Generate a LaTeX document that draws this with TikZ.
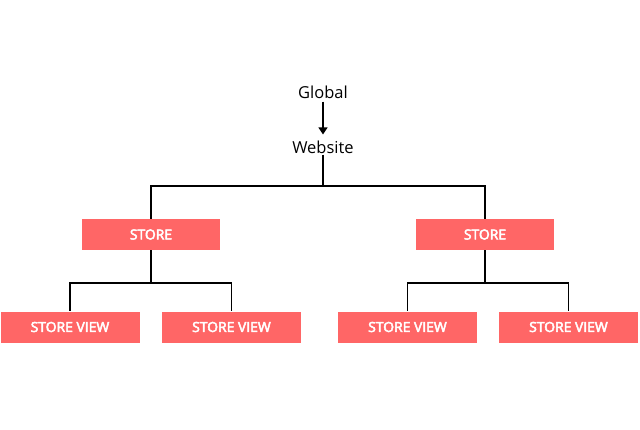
\documentclass[tikz,border=0pt]{standalone}
\usepackage{fontspec}
\setmainfont{Open Sans}
\newfontfamily\semibfont{Open Sans}[BoldFont={Open Sans}, BoldFeatures={FakeBold=3.5}]
\usetikzlibrary{arrows.meta}
\definecolor{boxred}{RGB}{255,102,102}
\begin{document}
\begin{tikzpicture}[x=1pt,y=-1pt,
  box/.style={fill=boxred, text=white, minimum height=31pt, inner sep=0pt, font=\semibfont\bfseries\fontsize{13.9}{16}\selectfont},
  storebox/.style={box, minimum width=138pt},
  viewbox/.style={box, minimum width=139pt},
  lbl/.style={font=\fontsize{16.5}{19}\selectfont, text=black, inner sep=1pt},
  conn/.style={line width=1.3pt, black}]
\useasboundingbox (0,0) rectangle (640,429);
\node[lbl] (global) at (323,92) {Global};
\node[lbl] (web) at (323,147) {Website};
\node[storebox] (s1) at (151,234.5) {STORE};
\node[storebox] (s2) at (485,234.5) {STORE};
\node[viewbox] (v1) at (70,327) {STORE VIEW};
\node[viewbox] (v2) at (231.5,327) {STORE VIEW};
\node[viewbox] (v3) at (407.5,327) {STORE VIEW};
\node[viewbox] (v4) at (568.5,327) {STORE VIEW};
\coordinate (j0) at (323,186);
\coordinate (j1) at (151,283);
\coordinate (j2) at (485,283);
\draw[conn, -{Triangle[length=7pt,width=9pt]}] ([yshift=-2pt]global.south) -- ([yshift=5pt]web.north);
\draw[conn] (web.south) -- (j0) -| (s1.north);
\draw[conn] (j0) -| (s2.north);
\draw[conn] (s1.south) -- (j1) -| (v1.north);
\draw[conn] (j1) -| (v2.north);
\draw[conn] (s2.south) -- (j2) -| (v3.north);
\draw[conn] (j2) -| (v4.north);
\end{tikzpicture}
\end{document}
